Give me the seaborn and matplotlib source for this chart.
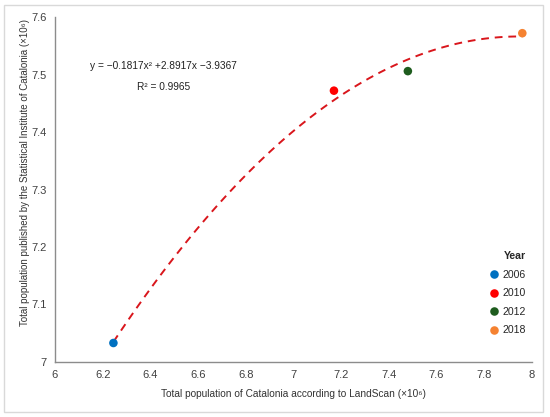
import numpy as np
import pandas as pd
import seaborn as sns
import matplotlib.pyplot as plt
from matplotlib.patches import Rectangle

# values (millions of people)
years = ['2006', '2010', '2012', '2018']
landscan = [6.245, 7.17, 7.48, 7.96]
idescat = [7.033, 7.472, 7.506, 7.572]
point_colors = ['#0070C0', '#FF0000', '#1E5C1E', '#F58231']

df = pd.DataFrame({'LandScan': landscan, 'Idescat': idescat, 'Year': years})

sns.set_style('white')
plt.rcParams['font.family'] = ['Liberation Sans', 'DejaVu Sans']

fig = plt.figure(figsize=(5.5, 4.17), dpi=100)
ax = fig.add_axes([0.1, 0.132, 0.867, 0.827])

# quadratic trendline fitted by seaborn
sns.regplot(data=df, x='LandScan', y='Idescat', order=2, ci=None, scatter=False,
            truncate=True, ax=ax,
            line_kws={'color': '#D9161C', 'linestyle': (0, (4, 3)), 'linewidth': 1.4})

sns.scatterplot(data=df, x='LandScan', y='Idescat', hue='Year', palette=point_colors,
                s=38, edgecolor='none', ax=ax, zorder=3)

ax.set_xlim(6, 8)
ax.set_ylim(7, 7.6)
ax.set_xticks(np.arange(6, 8.01, 0.2))
ax.set_xticklabels(['6', '6.2', '6.4', '6.6', '6.8', '7', '7.2', '7.4', '7.6', '7.8', '8'])
ax.set_yticks(np.arange(7, 7.61, 0.1))
ax.set_yticklabels(['7', '7.1', '7.2', '7.3', '7.4', '7.5', '7.6'])
ax.tick_params(labelsize=8, colors='#404040', length=0, pad=6)

ax.set_xlabel('Total population of Catalonia according to LandScan (\u00d710\u2076)',
              fontsize=7.3, color='#333333')
ax.xaxis.set_label_coords(0.5, -0.078)
ax.set_ylabel('Total population published by the Statistical Institute of Catalonia (\u00d710\u2076)',
              fontsize=7.0, color='#333333')
ax.yaxis.set_label_coords(-0.052, 0.55)

for side in ['top', 'right']:
    ax.spines[side].set_visible(False)
for side in ['left', 'bottom']:
    ax.spines[side].set_color('#8c8c8c')
    ax.spines[side].set_linewidth(1.0)

ax.text(0.228, 0.858, 'y = \u22120.1817x\u00b2 +2.8917x \u22123.9367', transform=ax.transAxes,
        ha='center', va='center', fontsize=7.3, color='#222222')
ax.text(0.228, 0.796, 'R\u00b2 = 0.9965', transform=ax.transAxes,
        ha='center', va='center', fontsize=7.3, color='#222222')

leg = ax.legend(title='Year', loc='lower right', bbox_to_anchor=(1.008, 0.05), frameon=False,
                fontsize=7.6, title_fontsize=7.6, handlelength=1.0, handletextpad=0.35,
                labelspacing=0.8, markerscale=1.0, alignment='right')
leg.get_title().set_fontweight('bold')

# light frame around the whole figure
fig.patches.append(Rectangle((0.008, 0.012), 0.98, 0.975, transform=fig.transFigure,
                             fill=False, edgecolor='#d9d9d9', linewidth=1.0))

fig.savefig('out.png', dpi=100)
